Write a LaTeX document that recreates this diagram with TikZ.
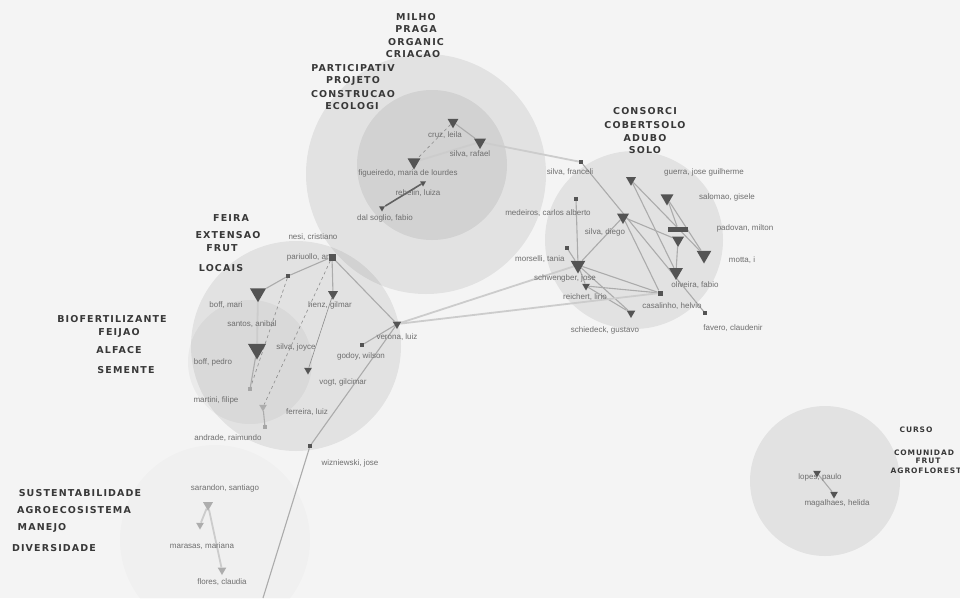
\documentclass[tikz,border=0pt]{standalone}
\usepackage{fontspec}
\setmainfont{Liberation Sans}
\newfontfamily\kwfont[LetterSpace=12]{DejaVu Sans}
\usetikzlibrary{shapes.geometric}

\definecolor{papel}{HTML}{F4F4F4}
\definecolor{nodo}{HTML}{545454}
\definecolor{rotulo}{HTML}{6E6E6E}
\definecolor{chave}{HTML}{383838}

\pgfdeclarelayer{fundo}
\pgfdeclarelayer{linhas}
\pgfsetlayers{fundo,linhas,main}

\tikzset{
  blob/.style={fill=black, fill opacity=0.07, draw=none},
  tri/.style={draw=none, fill=nodo, regular polygon, regular polygon sides=3,
    shape border rotate=180, inner sep=0pt, minimum size=#1},
  tripale/.style={tri=#1, fill=black!32},
  sq/.style={draw=none, fill=nodo, inner sep=0pt, minimum size=#1},
  sqpale/.style={sq=#1, fill=black!35},
  nome/.style={text=rotulo, font=\fontsize{8}{9}\selectfont, inner sep=0pt},
  chave/.style={text=chave, font=\kwfont\bfseries\fontsize{9.5}{11}\selectfont, inner sep=0pt},
  chavep/.style={chave, font=\kwfont\bfseries\fontsize{7.5}{9}\selectfont},
  aresta/.style={draw=black!33, line width=1.1pt},
  arestaclara/.style={draw=black!20, line width=1.8pt},
  arestafina/.style={draw=black!45, line width=0.6pt},
  arestaescura/.style={draw=black!62, line width=1.6pt},
}

\begin{document}
\begin{tikzpicture}[x=1pt, y=-1pt]
  \useasboundingbox (0,0) rectangle (960,598);

  % Circulos
  \begin{pgfonlayer}{fundo}
    \fill[papel] (0,0) rectangle (960,598);
    \fill[blob] (426,174) circle (120);
    \fill[blob] (432,165) circle (75);
    \fill[blob] (296,346) circle (105);
    \fill[blob, fill opacity=0.04] (250,362) circle (62);
    \fill[blob] (634,240) circle (89);
    \fill[blob] (825,481) circle (75);
    \fill[blob, fill opacity=0.015] (215,540) circle (95);
  \end{pgfonlayer}

  % Rotulos
  \node[nome] at (445,135) {cruz, leila};
  \node[nome] at (470,154) {silva, rafael};
  \node[nome] at (408,173) {figueiredo, maria de lourdes};
  \node[nome] at (418,193) {rebelin, luiza};
  \node[nome] at (385,218) {dal soglio, fabio};
  \node[nome] at (570,172) {silva, franceli};
  \node[nome] at (704,172) {guerra, jose guilherme};
  \node[nome] at (727,197) {salomao, gisele};
  \node[nome] at (548,213) {medeiros, carlos alberto};
  \node[nome] at (605,232) {silva, diego};
  \node[nome] at (745,228) {padovan, milton};
  \node[nome] at (742,260) {motta, i};
  \node[nome, anchor=west] at (515,259) {morselli, tania};
  \node[nome] at (565,278) {schwengber, jose};
  \node[nome] at (585,297) {reichert, lirio};
  \node[nome] at (695,285) {oliveira, fabio};
  \node[nome] at (672,306) {casalinho, helvio};
  \node[nome] at (605,330) {schiedeck, gustavo};
  \node[nome] at (733,328) {favero, claudenir};
  \node[nome] at (313,237) {nesi, cristiano};
  \node[nome] at (311,257) {pariuollo, ana};
  \node[nome] at (226,305) {boff, mari};
  \node[nome] at (330,305) {henz, gilmar};
  \node[nome] at (252,324) {santos, anibal};
  \node[nome] at (397,337) {verona, luiz};
  \node[nome] at (296,347) {silva, joyce};
  \node[nome] at (213,362) {boff, pedro};
  \node[nome] at (361,356) {godoy, wilson};
  \node[nome] at (343,382) {vogt, gilcimar};
  \node[nome] at (216,400) {martini, filipe};
  \node[nome] at (307,412) {ferreira, luiz};
  \node[nome] at (228,438) {andrade, raimundo};
  \node[nome] at (350,463) {wizniewski, jose};
  \node[nome] at (225,488) {sarandon, santiago};
  \node[nome] at (202,546) {marasas, mariana};
  \node[nome] at (222,582) {flores, claudia};
  \node[nome] at (820,477) {lopes, paulo};
  \node[nome] at (837,503) {magalhaes, helida};

  % Palavras-chave
  \node[chave] (milho) at (416,17) {MILHO};
  \node[chave] (praga) at (416,29) {PRAGA};
  \node[chave] (organic) at (416,42) {ORGANIC};
  \node[chave] (criacao) at (413,54) {CRIACAO};
  \node[chave] (particip) at (353,68) {PARTICIPATIV};
  \node[chave] (projeto) at (353,81) {PROJETO};
  \node[chave] (construcao) at (353,94) {CONSTRUCAO};
  \node[chave] (ecologi) at (352,106) {ECOLOGI};
  \node[chave] (consorci) at (645,111) {CONSORCI};
  \node[chave] (cobertsolo) at (645,125) {COBERTSOLO};
  \node[chave] (adubo) at (645,138) {ADUBO};
  \node[chave] (solo) at (645,150) {SOLO};
  \node[chave] (feira) at (231,218) {FEIRA};
  \node[chave] (extensao) at (228,235) {EXTENSAO};
  \node[chave] (frut) at (222,248) {FRUT};
  \node[chave] (locais) at (221,268) {LOCAIS};
  \node[chave] (biofert) at (112,319) {BIOFERTILIZANTE};
  \node[chave] (feijao) at (119,333) {FEIJAO};
  \node[chave] (alface) at (119,350) {ALFACE};
  \node[chave] (semente) at (126,370) {SEMENTE};
  \node[chave] (sustent) at (80,493) {SUSTENTABILIDADE};
  \node[chave] (agroeco) at (74,510) {AGROECOSISTEMA};
  \node[chave] (manejo) at (42,528) {MANEJO};
  \node[chave] (diversidade) at (54,548) {DIVERSIDADE};
  \node[chavep] (curso) at (916,430) {CURSO};
  \node[chavep] (comunidad) at (924,453) {COMUNIDAD};
  \node[chavep] (frut2) at (928,461) {FRUT};
  \node[chavep] (agroflorest) at (926,471) {AGROFLOREST};

  % Nodos
  \node[tri=12.5pt] (cruz) at (453,122) {};
  \node[tri=14pt] (silvar) at (480,142) {};
  \node[tri=15pt] (figueiredo) at (414,162) {};
  \node[tri=7pt] (rebelin) at (423,183) {};
  \node[tri=7pt] (dalsoglio) at (382,208) {};

  \node[sq=4pt] (franceli) at (581,162) {};
  \node[tri=11.5pt] (guerra) at (631,180) {};
  \node[tri=15pt] (salomao) at (667,198) {};
  \node[sq=3.5pt] (medeiros) at (576,199) {};
  \node[tri=14pt] (silvad) at (623,217) {};
  \node[sq=5pt, minimum width=20pt] (padovanb) at (678,229) {};
  \node[tri=14pt] (padovan) at (678,240) {};
  \node[tri=17pt] (motta) at (704,255) {};
  \node[sq=3.5pt] (morselli) at (567,248) {};
  \node[tri=17pt] (schwengber) at (578,265) {};
  \node[tri=16pt] (oliveira) at (676,272) {};
  \node[tri=9pt] (reichert) at (586,286) {};
  \node[sq=5pt] (casalinho) at (660,293) {};
  \node[tri=10pt] (schiedeck) at (631,313) {};
  \node[sq=3.5pt] (favero) at (705,313) {};

  \node[sq=7pt] (pariuollo) at (332,257) {};
  \node[sq=4pt] (elo) at (288,276) {};
  \node[tri=18.5pt] (boffmari) at (258,293) {};
  \node[tri=11.5pt] (henz) at (333,294) {};
  \node[tri=10pt] (verona) at (397,324) {};
  \node[tri=21pt] (boffpedro) at (257,349) {};
  \node[sq=4pt] (godoy) at (362,345) {};
  \node[tri=9pt] (vogt) at (308,370) {};
  \node[sqpale=4pt] (martini) at (250,389) {};
  \node[tripale=9pt] (ferreira) at (263,407) {};
  \node[sqpale=4pt] (andrade) at (265,427) {};
  \node[sq=4pt] (wizniewski) at (310,446) {};
  \coordinate (fim) at (263,598);

  \node[tripale=11.5pt] (sarandon) at (208,505) {};
  \node[tripale=9pt] (marasas) at (200,525) {};
  \node[tripale=10pt] (flores) at (222,570) {};

  \node[tri=9pt] (lopes) at (817,473) {};
  \node[tri=9pt] (magalhaes) at (834,494) {};

  % Aristas
  \begin{pgfonlayer}{linhas}
    \draw[arestafina, dashed] (cruz) -- (figueiredo);
    \draw[aresta] (cruz) -- (silvar);
    \draw[arestaclara] (figueiredo) -- (silvar);
    \draw[arestaescura] (rebelin) -- (dalsoglio);
    \draw[arestaclara] (silvar) -- (franceli);

    \draw[aresta] (franceli) -- (favero);
    \draw[aresta] (guerra) -- (motta);
    \draw[aresta] (guerra) -- (oliveira);
    \draw[aresta] (salomao) -- (padovanb);
    \draw[aresta] (padovan) -- (oliveira);
    \draw[aresta] (salomao) -- (motta);
    \draw[aresta] (medeiros) -- (schwengber);
    \draw[aresta] (morselli) -- (schwengber);
    \draw[aresta] (silvad) -- (schwengber);
    \draw[aresta] (silvad) -- (padovan);
    \draw[aresta] (silvad) -- (casalinho);
    \draw[aresta] (schwengber) -- (reichert);
    \draw[aresta] (schwengber) -- (casalinho);
    \draw[aresta] (reichert) -- (casalinho);
    \draw[aresta] (reichert) -- (schiedeck);
    \draw[aresta] (schwengber) -- (schiedeck);
    \draw[arestaclara] (verona) -- (schwengber);
    \draw[arestaclara] (verona) -- (casalinho);

    \draw[aresta] (pariuollo) -- (elo);
    \draw[aresta] (elo) -- (boffmari);
    \draw[arestafina, dashed] (elo) -- (martini);
    \draw[aresta] (pariuollo) -- (henz);
    \draw[aresta] (pariuollo) -- (verona);
    \draw[arestafina, dashed] (pariuollo) -- (ferreira);
    \draw[arestafina] (henz) -- (vogt);
    \draw[arestaclara] (boffmari) -- (boffpedro);
    \draw[aresta] (boffpedro) -- (martini);
    \draw[aresta] (ferreira) -- (andrade);
    \draw[aresta] (verona) -- (godoy);
    \draw[aresta] (verona) -- (wizniewski);
    \draw[aresta] (wizniewski) -- (fim);

    \draw[arestaclara] (sarandon) -- (flores);
    \draw[arestaclara] (sarandon) -- (marasas);
    \draw[aresta] (lopes) -- (magalhaes);
  \end{pgfonlayer}
\end{tikzpicture}
\end{document}
